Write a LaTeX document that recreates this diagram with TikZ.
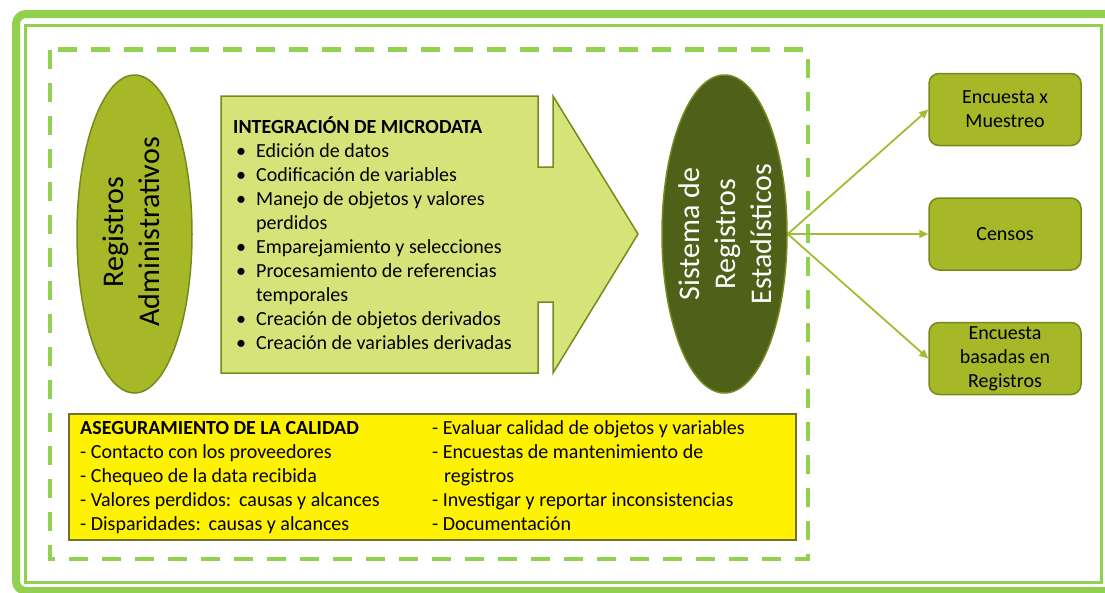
\documentclass[tikz,border=0pt]{standalone}
\usepackage{fontspec}
\setmainfont{Carlito}
\usetikzlibrary{shapes.geometric,arrows.meta,positioning}

\definecolor{marco}{RGB}{146,208,80}
\definecolor{oliva}{RGB}{166,184,40}
\definecolor{olivaborde}{RGB}{118,138,28}
\definecolor{olivaosc}{RGB}{79,97,24}
\definecolor{olivaclaro}{RGB}{214,227,121}
\definecolor{calidadborde}{RGB}{112,112,48}
\definecolor{conector}{RGB}{160,188,48}

\newcommand{\vin}{\makebox[23pt][l]{\hspace{3pt}\textbullet}}
\newcommand{\sangria}{\hspace*{23pt}}

\begin{document}
\begin{tikzpicture}[x=1pt, y=-1pt,
        elipse/.style={ellipse, draw=olivaborde, line width=1.5pt, inner sep=0pt},
        rotulo/.style={rotate=90, align=center, inner sep=0pt, font=\fontsize{30}{36}\selectfont},
        caja/.style={draw=olivaborde, fill=oliva, line width=1.5pt, rounded corners=10pt,
            minimum width=152pt, minimum height=72pt, inner sep=0pt, align=center,
            font=\fontsize{20}{24}\selectfont},
        texto/.style={inner sep=0pt, align=left, anchor=north west, font=\fontsize{20}{24}\selectfont},
        flecha/.style={conector, line width=1.8pt, -{Triangle[length=9pt,width=8pt]}}]
        \useasboundingbox (0,0) rectangle (1105,592);
        % marcos
        \begin{scope}
            \clip (0,0) rectangle (1105,592);
            \draw[marco, line width=8pt, rounded corners=10pt] (16,14) rectangle (1130,591);
            \draw[marco, line width=3pt] (25.5,25.5) rectangle (1101.5,582.5);
        \end{scope}
        \draw[marco, line width=4.5pt, dash pattern=on 19pt off 14pt] (50,49.5) rectangle (808,559);

        \node[elipse, fill=oliva, minimum width=115pt, minimum height=318pt] (regadm) at (134.5,234) {};
        \node[rotulo] (regadmtxt) at (131,232) {Registros\\Administrativos};

        \draw[draw=olivaborde, fill=olivaclaro, line width=1.5pt] (221,96) -- (538,96) -- (538,167) -- (553,167)
            -- (553,96) -- (638,234) -- (553,373) -- (553,302) -- (538,302) -- (538,373) -- (221,373) -- cycle;
        \node[texto] (integracion) at (233,116) {\textbf{INTEGRACIÓN DE MICRODATA}\\
            \vin Edición de datos\\
            \vin Codificación de variables\\
            \vin Manejo de objetos y valores\\
            \sangria perdidos\\
            \vin Emparejamiento y selecciones\\
            \vin Procesamiento de referencias\\
            \sangria temporales\\
            \vin Creación de objetos derivados\\
            \vin Creación de variables derivadas};

        \node[elipse, fill=olivaosc, minimum width=125pt, minimum height=318pt] (sre) at (724.5,234) {};
        \node[rotulo, text=white] (sretxt) at (725,234) {Sistema de\\Registros\\Estadísticos};

        \node[draw=calidadborde, fill=yellow, line width=1.5pt, minimum width=727pt, minimum height=126pt,
            inner sep=0pt, anchor=north west] (calidad) at (68,413) {};
        \node[texto] (calizq) at (80,421) {\textbf{ASEGURAMIENTO DE LA CALIDAD}\\
            - Contacto con los proveedores\\
            - Chequeo de la data recibida\\
            - Valores perdidos:\,\ causas y alcances\\
            - Disparidades:\,\ causas y alcances};
        \node[texto] (calder) at (432,420) {- Evaluar calidad de objetos y variables\\
            - Encuestas de mantenimiento de\\
            \hspace*{12pt}registros\\
            - Investigar y reportar inconsistencias\\
            - Documentación};

        \node[caja] (censos) at (1005,234) {Censos};
        \node[caja, above=51pt of censos] (muestreo) {Encuesta x\\Muestreo};
        \node[caja, below=51pt of censos] (basadas) {Encuesta\\basadas en\\Registros};

        \draw[flecha] (sre.east) -- (muestreo.west);
        \draw[flecha] (sre.east) -- (censos.west);
        \draw[flecha] (sre.east) -- (basadas.west);
    \end{tikzpicture}
\end{document}
